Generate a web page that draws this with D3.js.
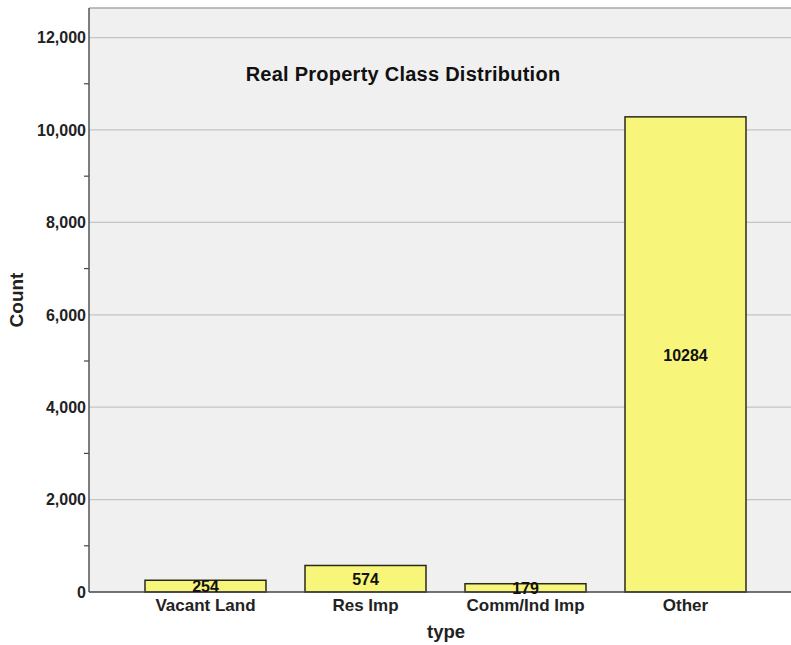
<!DOCTYPE html>
<html>
<head>
<meta charset="utf-8">
<script src="https://cdn.jsdelivr.net/npm/d3@7"></script>
<style>
  body { margin: 0; background: #fff; }
  text { font-family: "Liberation Sans", Arial, sans-serif; }
</style>
</head>
<body>
<div id="chart"></div>
<script>
// data
const categories = ["Vacant Land", "Res Imp", "Comm/Ind Imp", "Other"];
const counts = [254, 574, 179, 10284];
const yTicks = [0, 2000, 4000, 6000, 8000, 10000, 12000];
const yMinorTicks = [1000, 3000, 5000, 7000, 9000, 11000];

const width = 791, height = 645;
const plot = { left: 89, top: 8, right: 801, bottom: 592 };

let svg = d3.select("#chart")
    .append("svg")
    .attr("width", width)
    .attr("height", height);

let x = d3.scaleBand()
    .domain(categories)
    .range([125, 766])
    .paddingInner(0.24375)
    .paddingOuter(0.125);

let y = d3.scaleLinear()
    .domain([0, 12640])
    .range([plot.bottom, plot.top]);

// plot background
svg.append("rect")
    .attr("x", plot.left)
    .attr("y", plot.top)
    .attr("width", plot.right - plot.left)
    .attr("height", plot.bottom - plot.top)
    .attr("fill", "#f0f0f0");

svg.append("line")
    .attr("x1", plot.left).attr("x2", plot.right)
    .attr("y1", plot.top).attr("y2", plot.top)
    .attr("stroke", "#a8a8a8")
    .attr("stroke-width", 1.5);

// gridlines
svg.append("g")
    .selectAll("line")
    .data(yTicks.filter(d => d > 0))
    .enter()
    .append("line")
    .attr("x1", plot.left).attr("x2", plot.right)
    .attr("y1", d => y(d)).attr("y2", d => y(d))
    .attr("stroke", "#c4c4c4")
    .attr("stroke-width", 1.2);

// y axis labels
svg.append("g")
    .selectAll("text")
    .data(yTicks)
    .enter()
    .append("text")
    .attr("x", plot.left - 3)
    .attr("y", d => y(d))
    .attr("dy", "0.36em")
    .style("text-anchor", "end")
    .style("font-size", "16px")
    .style("font-weight", "bold")
    .attr("fill", "#222")
    .text(d => d3.format(",")(d));

// minor ticks
svg.append("g")
    .selectAll("line")
    .data(yMinorTicks)
    .enter()
    .append("line")
    .attr("x1", plot.left - 5).attr("x2", plot.left)
    .attr("y1", d => y(d)).attr("y2", d => y(d))
    .attr("stroke", "#444")
    .attr("stroke-width", 1.2);

// bars
svg.append("g")
    .selectAll("rect")
    .data(categories)
    .enter()
    .append("rect")
    .attr("x", d => x(d))
    .attr("y", (d, i) => y(counts[i]))
    .attr("width", x.bandwidth())
    .attr("height", (d, i) => y(0) - y(counts[i]))
    .attr("fill", "#f8f67a")
    .attr("stroke", "#2a2a1a")
    .attr("stroke-width", 1.5);

// axis lines
svg.append("line")
    .attr("x1", plot.left).attr("x2", plot.left)
    .attr("y1", plot.top).attr("y2", plot.bottom)
    .attr("stroke", "#555")
    .attr("stroke-width", 1.5);
svg.append("line")
    .attr("x1", plot.left).attr("x2", plot.right)
    .attr("y1", plot.bottom).attr("y2", plot.bottom)
    .attr("stroke", "#444")
    .attr("stroke-width", 1.5);

// bar value labels, centered in bar
svg.append("g")
    .selectAll("text")
    .data(categories)
    .enter()
    .append("text")
    .attr("x", d => x(d) + x.bandwidth() / 2)
    .attr("y", (d, i) => (y(counts[i]) + y(0)) / 2)
    .attr("dy", "0.38em")
    .style("text-anchor", "middle")
    .style("font-size", "16px")
    .style("font-weight", "bold")
    .attr("fill", "#111")
    .text((d, i) => counts[i]);

// category labels
svg.append("g")
    .selectAll("text")
    .data(categories)
    .enter()
    .append("text")
    .attr("x", d => x(d) + x.bandwidth() / 2)
    .attr("y", 611)
    .style("text-anchor", "middle")
    .style("font-size", "17px")
    .style("font-weight", "bold")
    .attr("fill", "#222")
    .text(d => d);

// axis titles
svg.append("text")
    .attr("transform", `translate(23, ${(plot.top + plot.bottom) / 2}) rotate(-90)`)
    .style("text-anchor", "middle")
    .style("font-size", "19px")
    .style("font-weight", "bold")
    .attr("fill", "#222")
    .text("Count");

svg.append("text")
    .attr("x", 446)
    .attr("y", 638)
    .style("text-anchor", "middle")
    .style("font-size", "18.5px")
    .style("font-weight", "bold")
    .attr("fill", "#222")
    .text("type");

// chart title
svg.append("text")
    .attr("x", 403)
    .attr("y", 81)
    .style("text-anchor", "middle")
    .style("font-size", "20px")
    .style("font-weight", "bold")
    .style("letter-spacing", "0.25px")
    .attr("fill", "#111")
    .text("Real Property Class Distribution");
</script>
</body>
</html>
